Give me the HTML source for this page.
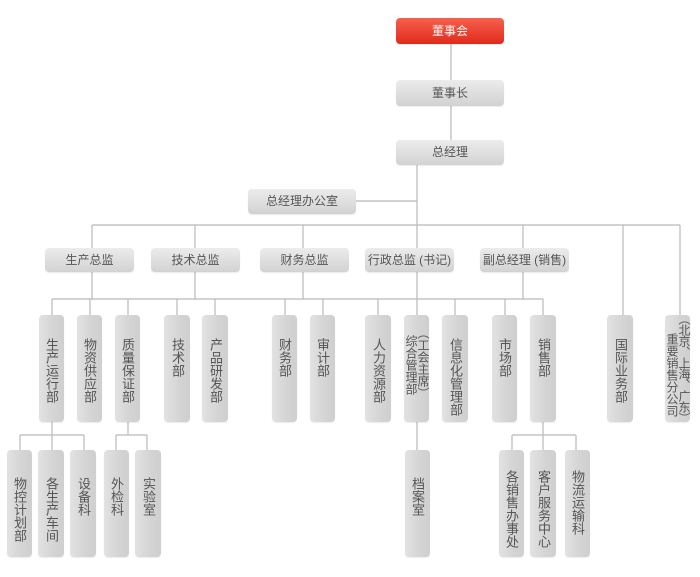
<!DOCTYPE html>
<html><head><meta charset="utf-8"><style>
body{margin:0;width:700px;height:577px;background:#fff;position:relative;overflow:hidden;font-family:"Liberation Sans","Noto Sans CJK SC",sans-serif;}
.b{position:absolute;border-radius:4px;background:linear-gradient(#ececec,#d2d2d2);color:#555;font-size:12px;text-align:center;box-shadow:0 1px 1px rgba(0,0,0,.08);overflow:visible}
.h{height:25px;line-height:25px;}
.v{background:linear-gradient(90deg,#e2e2e2,#d4d4d4 60%,#cfcfcf);}
.t{position:absolute;writing-mode:vertical-rl;font-size:13px;line-height:14px;color:#555;white-space:nowrap;}
svg{position:absolute;left:0;top:0}
</style></head><body>
<svg width="700" height="577"><g stroke="#b9b9b9" stroke-width="1.2" fill="none">
<path d="M451 44V80M451 106V140M417 165V248M356 201H417M92 225H680M92 225V248M195 225V248M303 225V248M523 225V248M623 225V315M680 225V315"/>
<path d="M92 272V299M195 272V299M303 272V299M417 272V315M523 272V299M52 299H543"/>
<path d="M52 299V315M90 299V315M128 299V315M177 299V315M215 299V315M285 299V315M323 299V315M378 299V315M455 299V315M505 299V315M543 299V315"/>
<path d="M52 422V450M20 435H84M20 435V450M84 435V450M128 422V435M116 435H147M116 435V450M147 435V450M417 422V450M543 422V450M512 435H576M512 435V450M576 435V450"/>
</g></svg>
<div class="b h" style="left:396px;top:18px;width:108px;height:26px;line-height:26px;background:linear-gradient(#f7604d,#e02a1c);color:#fff">董事会</div>
<div class="b h" style="left:396px;top:80px;width:108px;height:26px;line-height:26px">董事长</div>
<div class="b h" style="left:396px;top:140px;width:108px">总经理</div>
<div class="b h" style="left:248px;top:189px;width:108px">总经理办公室</div>
<div class="b h" style="left:45px;top:248px;width:89px;height:24px;line-height:24px">生产总监</div>
<div class="b h" style="left:151px;top:248px;width:89px;height:24px;line-height:24px">技术总监</div>
<div class="b h" style="left:260px;top:248px;width:89px;height:24px;line-height:24px">财务总监</div>
<div class="b h" style="left:365px;top:248px;width:89px;height:24px;line-height:24px">行政总监 (书记)</div>
<div class="b h" style="left:480px;top:248px;width:89px;height:24px;line-height:24px">副总经理 (销售)</div>

<div class="b v" style="left:39px;top:315px;width:25px;height:107px"><span class="t" style="left:5px;top:23px">生产运行部</span></div>
<div class="b v" style="left:77px;top:315px;width:25px;height:107px"><span class="t" style="left:5px;top:23px">物资供应部</span></div>
<div class="b v" style="left:115px;top:315px;width:25px;height:107px"><span class="t" style="left:5px;top:23px">质量保证部</span></div>
<div class="b v" style="left:164px;top:315px;width:26px;height:107px"><span class="t" style="left:6px;top:23px">技术部</span></div>
<div class="b v" style="left:202px;top:315px;width:26px;height:107px"><span class="t" style="left:6px;top:23px">产品研发部</span></div>
<div class="b v" style="left:272px;top:315px;width:25px;height:107px"><span class="t" style="left:5px;top:23px">财务部</span></div>
<div class="b v" style="left:310px;top:315px;width:25px;height:107px"><span class="t" style="left:5px;top:23px">审计部</span></div>
<div class="b v" style="left:365px;top:315px;width:26px;height:107px"><span class="t" style="left:6px;top:23px">人力资源部</span></div>
<div class="b v" style="left:404px;top:315px;width:25px;height:107px"><span class="t" style="left:13px;top:12px;font-size:12px;line-height:12px">（工会主席）</span><span class="t" style="left:0px;top:20px;font-size:12px;line-height:13px">综合管理部</span></div>
<div class="b v" style="left:442px;top:315px;width:26px;height:107px"><span class="t" style="left:6px;top:23px">信息化管理部</span></div>
<div class="b v" style="left:492px;top:315px;width:25px;height:107px"><span class="t" style="left:5px;top:23px">市场部</span></div>
<div class="b v" style="left:530px;top:315px;width:26px;height:107px"><span class="t" style="left:6px;top:23px">销售部</span></div>
<div class="b v" style="left:607px;top:315px;width:26px;height:107px"><span class="t" style="left:6px;top:23px">国际业务部</span></div>
<div class="b v" style="left:665px;top:315px;width:25px;height:107px"><span class="t" style="left:13px;top:-2px;font-size:12px;line-height:12px;letter-spacing:-1px">（北京、上海、广东）</span><span class="t" style="left:0px;top:18px;font-size:12px;line-height:13px">重要销售分公司</span></div>

<div class="b v" style="left:7px;top:450px;width:25px;height:107px"><span class="t" style="left:5px;top:27px">物控计划部</span></div>
<div class="b v" style="left:38px;top:450px;width:26px;height:107px"><span class="t" style="left:6px;top:27px">各生产车间</span></div>
<div class="b v" style="left:70px;top:450px;width:26px;height:107px"><span class="t" style="left:6px;top:27px">设备科</span></div>
<div class="b v" style="left:104px;top:450px;width:25px;height:107px"><span class="t" style="left:5px;top:27px">外检科</span></div>
<div class="b v" style="left:135px;top:450px;width:26px;height:107px"><span class="t" style="left:6px;top:27px">实验室</span></div>
<div class="b v" style="left:405px;top:450px;width:25px;height:107px"><span class="t" style="left:5px;top:27px">档案室</span></div>
<div class="b v" style="left:499px;top:450px;width:25px;height:107px"><span class="t" style="left:5px;top:20px">各销售办事处</span></div>
<div class="b v" style="left:530px;top:450px;width:26px;height:107px"><span class="t" style="left:6px;top:20px">客户服务中心</span></div>
<div class="b v" style="left:565px;top:450px;width:25px;height:107px"><span class="t" style="left:5px;top:20px">物流运输科</span></div>
</body></html>
